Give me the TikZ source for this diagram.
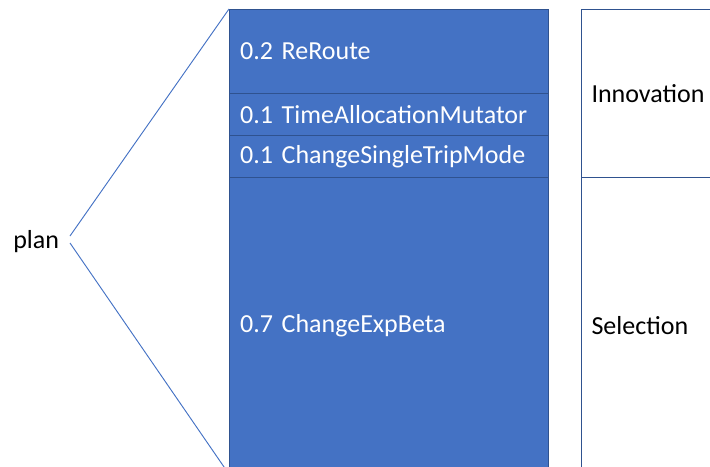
\documentclass[tikz,border=0pt]{standalone}
\usepackage{fontspec}
\setmainfont{Carlito}
\definecolor{accent}{HTML}{4472C4}
\definecolor{accentdark}{HTML}{2F528F}
\begin{document}
\begin{tikzpicture}[x=0.75pt,y=-0.75pt,
  lbl/.style={font=\fontsize{19.5}{22}\selectfont},
  seg/.style={lbl,draw=accentdark,line width=0.9pt,fill=accent,text=white,
    anchor=north west,minimum width=319*0.75pt,text width=298*0.75pt,
    inner xsep=10*0.75pt,inner ysep=0pt,align=left},
  phase/.style={lbl,draw=accentdark,line width=0.8pt,anchor=north west,
    minimum width=140*0.75pt,text width=120*0.75pt,inner xsep=10*0.75pt,
    inner ysep=0pt,align=left},
  brace/.style={draw=accent,line width=0.7pt}]
\useasboundingbox (0,0) rectangle (710,467);
% strategy shares
\node[seg,minimum height=84*0.75pt]  (reroute) at (229,9)   {0.2 ReRoute};
\node[seg,minimum height=42*0.75pt]  (tam)     at (229,93)  {0.1 TimeAllocationMutator};
\node[seg,minimum height=42*0.75pt]  (cstm)    at (229,135) {0.1 ChangeSingleTripMode};
\node[seg,minimum height=296*0.75pt] (ceb)     at (229,177) {0.7 ChangeExpBeta};
% phases
\node[phase,minimum height=168*0.75pt] (innov) at (581,9)   {Innovation};
\node[phase,minimum height=296*0.75pt] (sel)   at (581,177) {Selection};
% plan and its fan
\node[lbl,anchor=west,inner sep=0pt] (plan) at (13,242) {plan};
\coordinate (tipA) at (70,236);
\coordinate (tipB) at (70,243);
\draw[brace] (tipA) -- (reroute.north west);
\draw[brace] (tipB) -- (ceb.south west);
\end{tikzpicture}
\end{document}
